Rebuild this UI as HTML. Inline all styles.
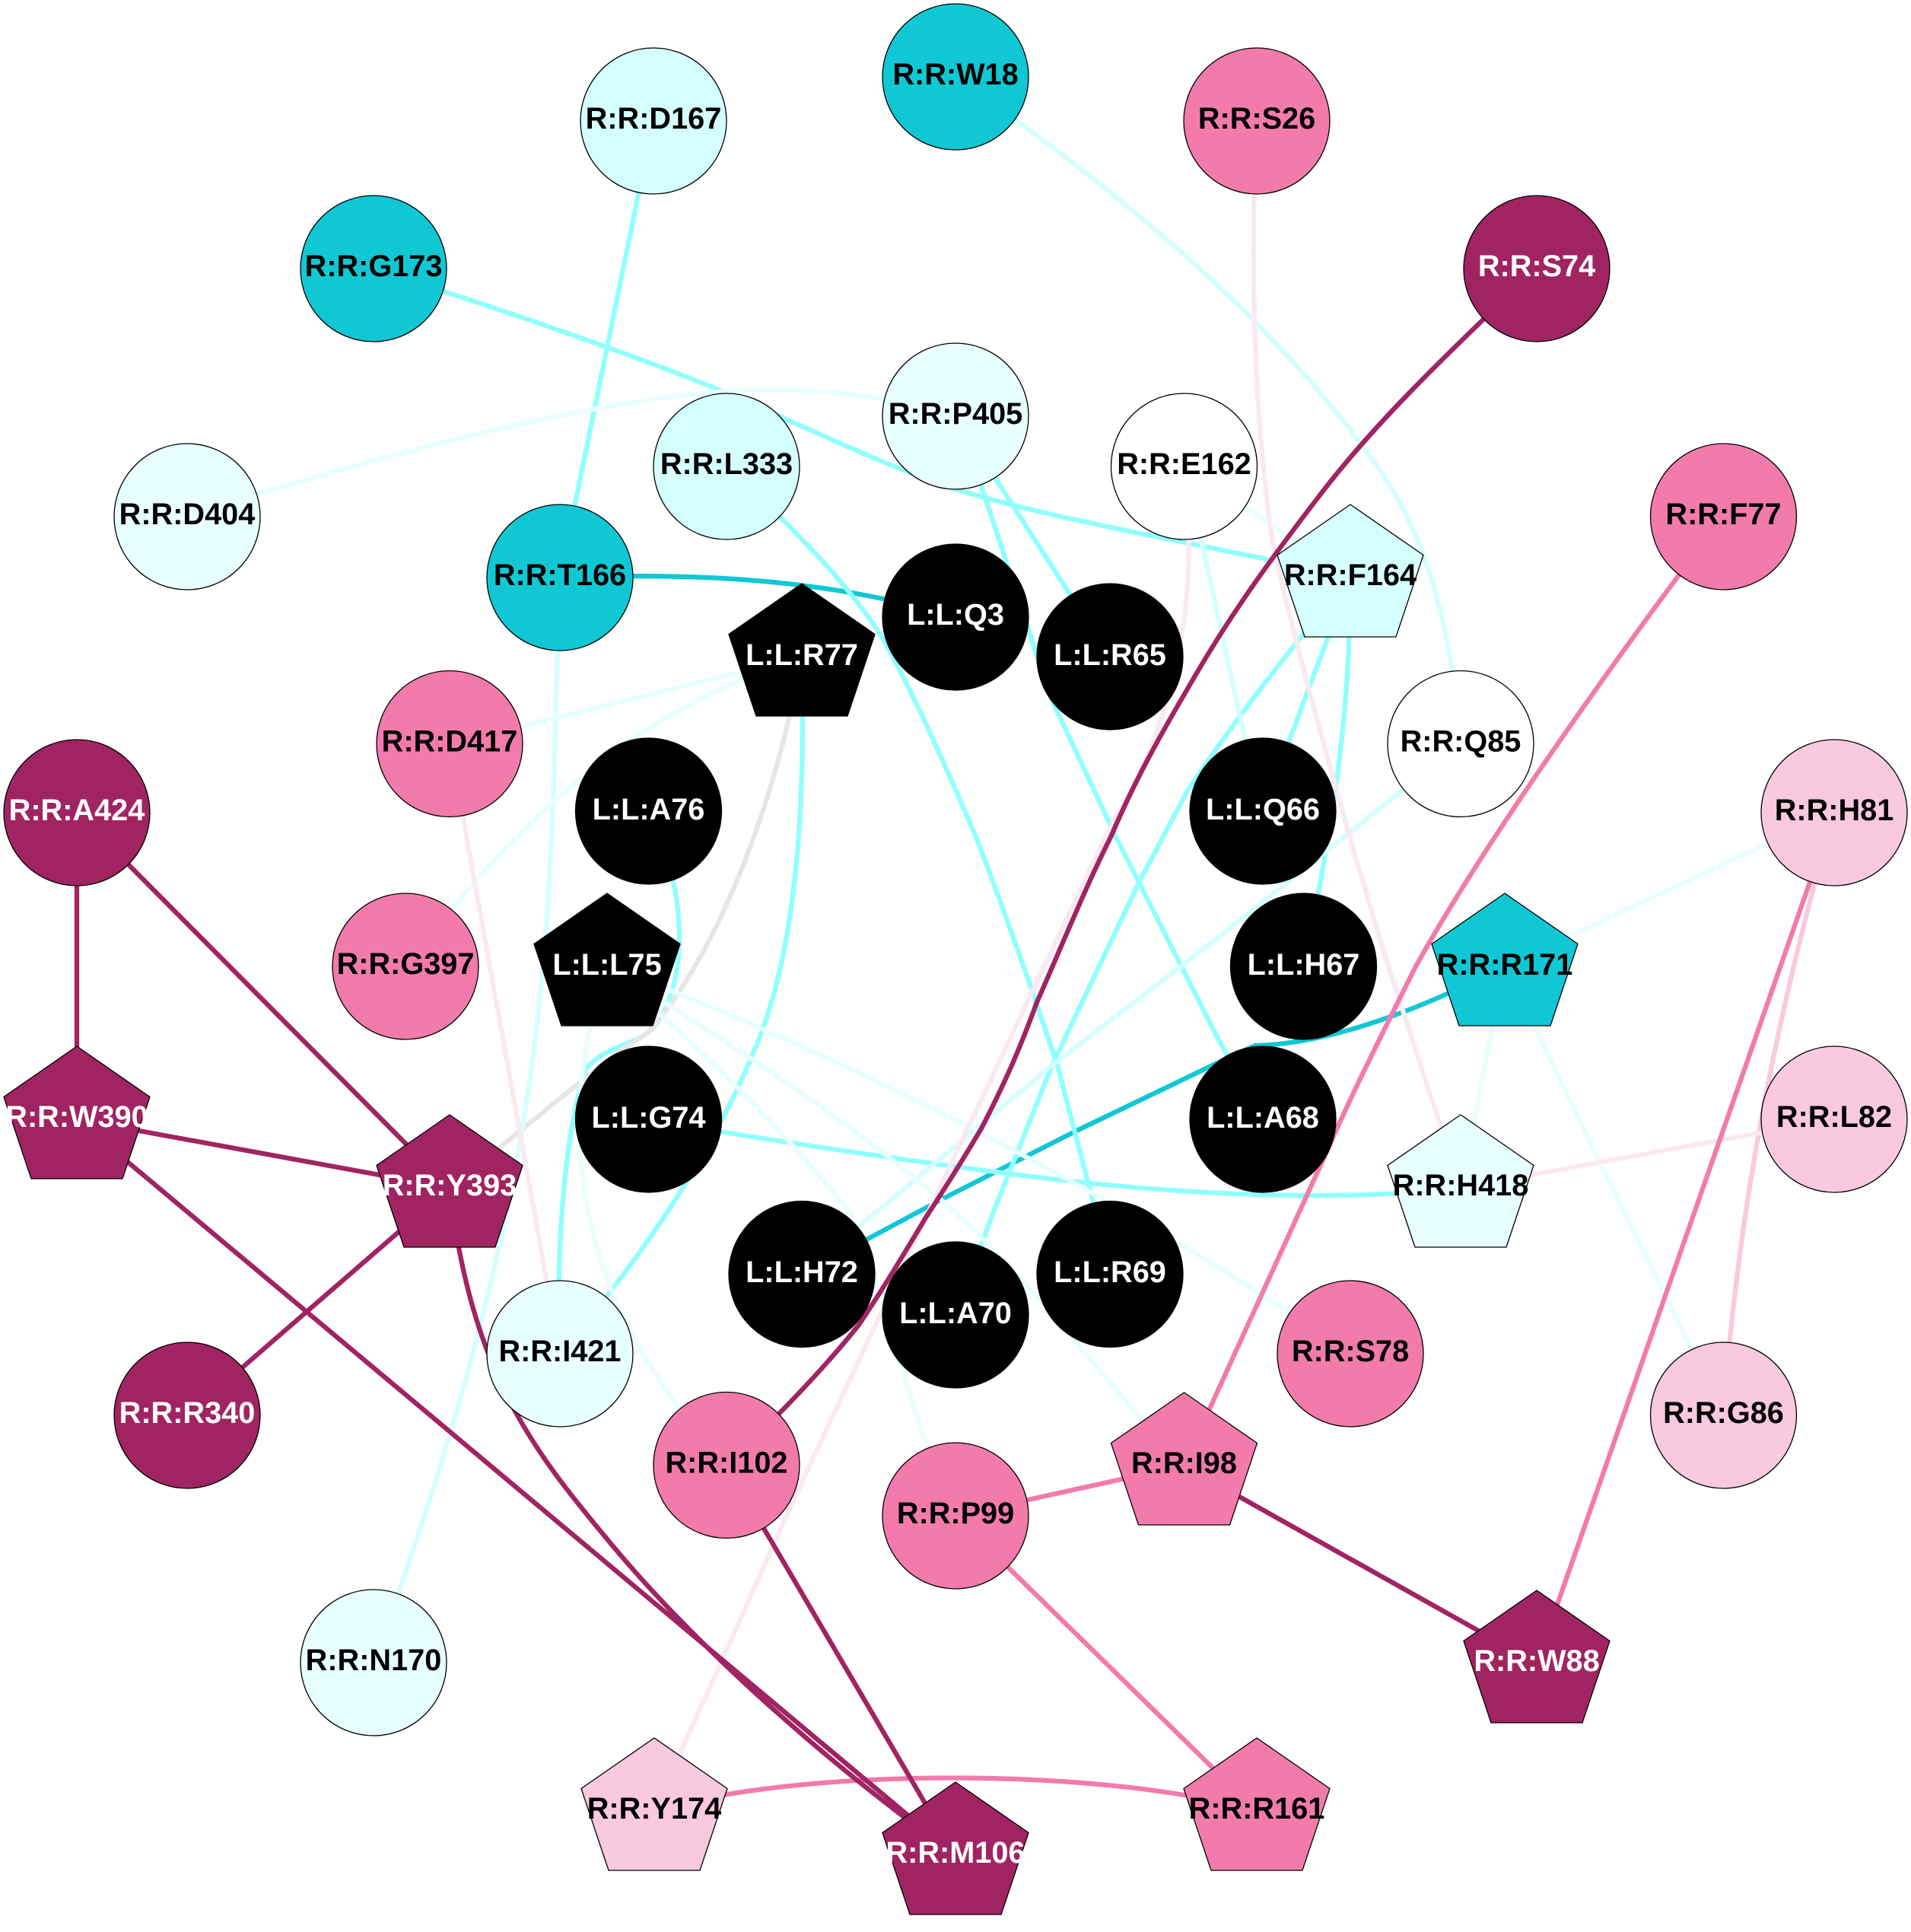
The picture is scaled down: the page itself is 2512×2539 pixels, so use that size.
<!DOCTYPE html>
<html>
<head>
<meta charset="utf-8">
<style>
html,body{margin:0;padding:0;background:#fff}
svg{display:block}
text{font-family:"Liberation Sans",Arial,sans-serif;font-weight:bold;font-size:39.7px;text-anchor:middle;fill:#000}
text.w{fill:#fff}
.e path{fill:none;stroke-width:6.3;stroke-linejoin:round}
.n circle,.n polygon{stroke:#000;stroke-width:1.3}
</style>
</head>
<body>
<svg width="2512" height="2539" viewBox="0 0 2512 2539" xmlns="http://www.w3.org/2000/svg">
<rect width="2512" height="2539" fill="#fff"/>
<g class="e">
<g stroke="#10c8d4">
<path d="M736 759 C900 753 1080 758 1256 811"/>
<path d="M1978 1270 C1870 1325 1750 1372 1650 1374 L1600 1397 L1413 1487 L1240 1575 L1054 1674.500"/>
</g>
<g stroke="#8fffff">
<path d="M859 159 L736 759"/>
<path d="M491 353 C700 419.500 900 490 1000 536 C1100 581 1190 622 1260 644 C1400 687 1600 718 1775 759"/>
<path d="M955 613 C1060 708 1130 788 1162 842 C1200 910 1240 1000 1283 1100 C1310 1170 1335 1240 1357 1303 L1390 1400 L1437 1580 L1459 1675"/>
<path d="M1256 547 L1459 863"/>
<path d="M1256 547 C1300 657 1340 799 1384 923 L1467 1100 L1600 1363 L1660 1471"/>
<path d="M1775 759 L1660 1066"/>
<path d="M1775 759 C1775 910 1760 1051 1713.500 1270"/>
<path d="M1775 759 C1690 859 1620 950 1560 1041 L1497 1160 L1383 1400 L1303 1600 L1256 1728"/>
<path d="M852 1471 C1000 1497 1250 1535 1433 1555 C1600 1572 1780 1578 1920 1561"/>
<path d="M1054 863 C1060 1100 1040 1270 990 1384 C950 1480 880 1610 736 1779"/>
<path d="M852 1066 C905 1170 905 1290 861 1348 C840 1375 800 1370 770 1405 C745 1480 730 1620 736 1779"/>
</g>
<path stroke="#e6e6e6" d="M1054 863 C1020 1050 950 1240 856 1353 C840 1368 820 1375 800 1392 L591 1561"/>
<g stroke="#d5ffff">
<path d="M1256 101 C1400 202 1530 303 1649 422 C1720 495 1770 556 1801 600 C1860 677 1905 788 1920 977"/>
<path d="M1556 613 C1590 748 1620 910 1660 1066"/>
<path d="M1920 977.500 L1600 1233 L1383 1400 L1054 1674.500"/>
<path d="M736 759 C720 1210 740 1505 491 2185"/>
</g>
<g stroke="#e8ffff">
<path d="M246 679 C500 596 830 510.500 1010 512.500 C1100 511.500 1200 528 1256 547"/>
<path d="M1054 863 L591 977.500"/>
<path d="M1054 863 C850 930 700 1052 533 1270"/>
<path d="M1556.500 613 L1775 759"/>
<path d="M2411 1068 L1978 1270"/>
<path d="M1978 1270 L1920 1561"/>
<path d="M1978 1270 L2265.500 1860"/>
<path d="M798 1270 C730 1470 745 1700 955 1925"/>
<path d="M798 1270 C1000 1343 1400 1520 1775 1779"/>
<path d="M798 1270 C950 1365 1130 1480 1260 1597 C1360 1690 1460 1825 1556 1926"/>
<path d="M798 1270 C900 1360 1030 1480 1124 1603 C1160 1690 1200 1880 1256 1992"/>
</g>
<g stroke="#f9c9df">
<path d="M2411 1068 C2370 1213 2290 1505 2265.500 1860"/>
</g>
<g stroke="#fbe9f1">
<path d="M1556 613 C1570 728 1565 829 1520 964 C1500 1020 1480 1050 1453 1100 L1357 1303 L1217 1600 L1053 1950 L860 2380"/>
<path d="M1652 159 C1642 354 1650 566 1673 713 C1700 839 1770 1092 1825 1270 L1920 1561"/>
<path d="M591 977.500 L736 1779"/>
<path d="M1920 1561 L2411 1471"/>
</g>
<g stroke="#f27bab">
<path d="M2265 679 C2150 829 1960 1092 1861 1270 C1800 1392 1770 1453 1737 1529 L1556 1926"/>
<path d="M2411 1068 L2020 2186"/>
<path d="M1256 1992 L1556 1926"/>
<path d="M1256 1992 L1652 2380"/>
<path d="M860 2380 C1050 2322 1450 2322 1652 2380"/>
</g>
<g stroke="#a12462">
<path d="M2020 353 C1880 485 1800 566 1737 648 C1660 748 1610 819 1560 907 C1520 975 1490 1030 1460 1100 C1425 1170 1395 1245 1363 1317 C1340 1380 1320 1425 1290 1483 C1265 1525 1240 1565 1217 1600 C1190 1645 1160 1695 1129 1741 C1090 1790 1030 1855 955 1925"/>
<path d="M101 1068 L101 1471"/>
<path d="M101 1068 L591 1561"/>
<path d="M101 1471 L591 1561"/>
<path d="M101 1471 L1256 2438"/>
<path d="M591 1561 L246 1860"/>
<path d="M591 1561 C620 1804 700 1905 800 2025 C900 2146 1060 2297 1256 2438"/>
<path d="M955 1925 L1256 2438"/>
<path d="M1556 1926 L2020 2186"/>
</g>
</g>
<g class="n">
<circle cx="859" cy="159" r="96" fill="#d5ffff"/><text x="859" y="169">R:R:D167</text>
<circle cx="1256" cy="101" r="96" fill="#10c8d4"/><text x="1256" y="111">R:R:W18</text>
<circle cx="1652" cy="159" r="96" fill="#f27bab"/><text x="1652" y="169">R:R:S26</text>
<circle cx="491" cy="353" r="96" fill="#10c8d4"/><text x="491" y="363">R:R:G173</text>
<circle cx="2020" cy="353" r="96" fill="#a12462"/><text class="w" x="2020" y="363">R:R:S74</text>
<circle cx="1256" cy="547" r="96" fill="#e8ffff"/><text x="1256" y="557">R:R:P405</text>
<circle cx="955" cy="613" r="96" fill="#d5ffff"/><text x="955" y="623">R:R:L333</text>
<circle cx="1556.500" cy="613" r="96" fill="#fff"/><text x="1556.500" y="623">R:R:E162</text>
<circle cx="246" cy="679" r="96" fill="#e8ffff"/><text x="246" y="689">R:R:D404</text>
<circle cx="2265.500" cy="679" r="96" fill="#f27bab"/><text x="2265.500" y="689">R:R:F77</text>
<circle cx="736" cy="759" r="96" fill="#10c8d4"/><text x="736" y="769">R:R:T166</text>
<polygon transform="translate(1775,759)" points="0,-96 96,-29.500 60,78 -60,78 -96,-29.500" fill="#d5ffff"/><text x="1775" y="769">R:R:F164</text>
<circle cx="1256" cy="811" r="96" fill="#000"/><text class="w" x="1256" y="821">L:L:Q3</text>
<polygon transform="translate(1054,863)" points="0,-96 96,-29.500 60,78 -60,78 -96,-29.500" fill="#000"/><text class="w" x="1054" y="874">L:L:R77</text>
<circle cx="1459" cy="863" r="96" fill="#000"/><text class="w" x="1459" y="874">L:L:R65</text>
<circle cx="591" cy="977.500" r="96" fill="#f27bab"/><text x="591" y="987.500">R:R:D417</text>
<circle cx="1920" cy="977.500" r="96" fill="#fff"/><text x="1920" y="987.500">R:R:Q85</text>
<circle cx="852.500" cy="1066" r="96" fill="#000"/><text class="w" x="852.500" y="1077">L:L:A76</text>
<circle cx="1660" cy="1066" r="96" fill="#000"/><text class="w" x="1660" y="1077">L:L:Q66</text>
<circle cx="101" cy="1068" r="96" fill="#a12462"/><text class="w" x="101" y="1078">R:R:A424</text>
<circle cx="2411" cy="1068" r="96" fill="#f9c9df"/><text x="2411" y="1078">R:R:H81</text>
<circle cx="533" cy="1270" r="96" fill="#f27bab"/><text x="533" y="1280">R:R:G397</text>
<polygon transform="translate(798,1270)" points="0,-96 96,-29.500 60,78 -60,78 -96,-29.500" fill="#000"/><text class="w" x="798" y="1281">L:L:L75</text>
<circle cx="1713.500" cy="1270" r="96" fill="#000"/><text class="w" x="1713.500" y="1281">L:L:H67</text>
<polygon transform="translate(1978,1270)" points="0,-96 96,-29.500 60,78 -60,78 -96,-29.500" fill="#10c8d4"/><text x="1978" y="1281">R:R:R171</text>
<polygon transform="translate(101,1471)" points="0,-96 96,-29.500 60,78 -60,78 -96,-29.500" fill="#a12462"/><text class="w" x="101" y="1481">R:R:W390</text>
<circle cx="852.500" cy="1471" r="96" fill="#000"/><text class="w" x="852.500" y="1482">L:L:G74</text>
<circle cx="1660" cy="1471" r="96" fill="#000"/><text class="w" x="1660" y="1482">L:L:A68</text>
<circle cx="2411" cy="1471" r="96" fill="#f9c9df"/><text x="2411" y="1481">R:R:L82</text>
<polygon transform="translate(591,1561)" points="0,-96 96,-29.500 60,78 -60,78 -96,-29.500" fill="#a12462"/><text class="w" x="591" y="1571">R:R:Y393</text>
<polygon transform="translate(1920,1561)" points="0,-96 96,-29.500 60,78 -60,78 -96,-29.500" fill="#e8ffff"/><text x="1920" y="1571">R:R:H418</text>
<circle cx="1054" cy="1674.500" r="96" fill="#000"/><text class="w" x="1054" y="1685">L:L:H72</text>
<circle cx="1459" cy="1674.500" r="96" fill="#000"/><text class="w" x="1459" y="1685">L:L:R69</text>
<circle cx="1256" cy="1728" r="96" fill="#000"/><text class="w" x="1256" y="1739">L:L:A70</text>
<circle cx="736" cy="1779" r="96" fill="#e8ffff"/><text x="736" y="1789">R:R:I421</text>
<circle cx="1775" cy="1779" r="96" fill="#f27bab"/><text x="1775" y="1789">R:R:S78</text>
<circle cx="246" cy="1860" r="96" fill="#a12462"/><text class="w" x="246" y="1870">R:R:R340</text>
<circle cx="2265.500" cy="1860" r="96" fill="#f9c9df"/><text x="2265.500" y="1870">R:R:G86</text>
<circle cx="955" cy="1925.500" r="96" fill="#f27bab"/><text x="955" y="1935.500">R:R:I102</text>
<polygon transform="translate(1556.500,1926)" points="0,-96 96,-29.500 60,78 -60,78 -96,-29.500" fill="#f27bab"/><text x="1556.500" y="1936">R:R:I98</text>
<circle cx="1256" cy="1992" r="96" fill="#f27bab"/><text x="1256" y="2002">R:R:P99</text>
<circle cx="491" cy="2185" r="96" fill="#e8ffff"/><text x="491" y="2195">R:R:N170</text>
<polygon transform="translate(2020,2186)" points="0,-96 96,-29.500 60,78 -60,78 -96,-29.500" fill="#a12462"/><text class="w" x="2020" y="2196">R:R:W88</text>
<polygon transform="translate(860,2380)" points="0,-96 96,-29.500 60,78 -60,78 -96,-29.500" fill="#f9c9df"/><text x="860" y="2390">R:R:Y174</text>
<polygon transform="translate(1652,2380)" points="0,-96 96,-29.500 60,78 -60,78 -96,-29.500" fill="#f27bab"/><text x="1652" y="2390">R:R:R161</text>
<polygon transform="translate(1256,2438)" points="0,-96 96,-29.500 60,78 -60,78 -96,-29.500" fill="#a12462"/><text class="w" x="1256" y="2448">R:R:M106</text>
</g>
</svg>
</body>
</html>
